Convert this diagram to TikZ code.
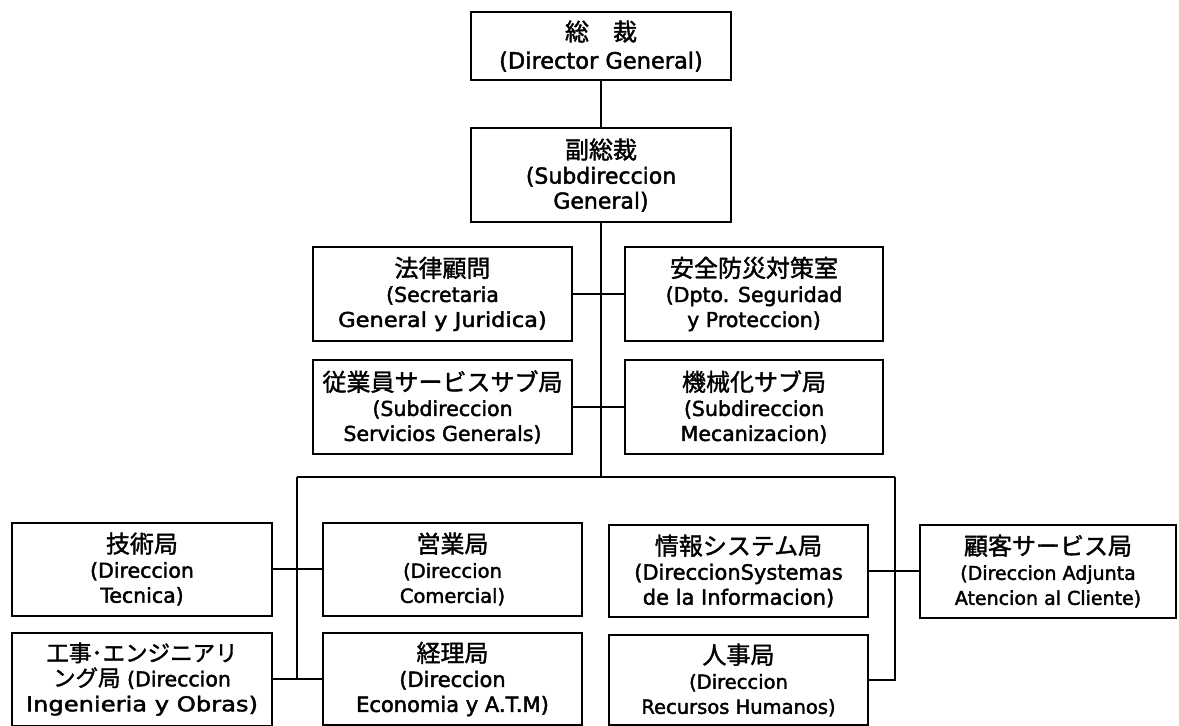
\documentclass[tikz,border=0pt]{standalone}
\usepackage{fontspec}
\usepackage{graphicx}
\setmainfont{DejaVu Sans}[FakeBold=2]
\newfontfamily\jpfont{Noto Sans CJK JP}[FakeBold=1.5]
\newcommand\jp[1]{{\jpfont\fontsize{24}{25}\selectfont #1}}
\newcommand\jps[1]{{\jpfont\fontsize{22.5}{25}\selectfont #1}}
\newcommand\wide[2]{\scalebox{#1}[1]{#2}}
\tikzset{
  orgbox/.style={draw, line width=2pt, align=center, inner sep=0pt,
    font=\fontsize{20.5}{25}\selectfont},
  link/.style={line width=2pt}
}
\begin{document}
\begin{tikzpicture}[x=1pt,y=-1pt]
\fill[white] (0,0) rectangle (1179,726);
\useasboundingbox (0,0) rectangle (1179,726);
% top
\node[orgbox, minimum width=260pt, minimum height=68pt,
  font=\fontsize{22.5}{28}\selectfont] (dg) at (601,46)
  {\jp{総　裁}\\(Director General)};
\node[orgbox, minimum width=260pt, minimum height=94pt,
  font=\fontsize{22}{25}\selectfont] (sg) at (601,175)
  {\jp{副総裁}\\(Subdireccion\\General)};
% middle
\node[orgbox, minimum width=259pt, minimum height=94pt] (leg) at (442.5,294)
  {\jp{法律顧問}\\(Secretaria\\\wide{1.1}{General y Juridica)}};
\node[orgbox, minimum width=258pt, minimum height=94pt] (seg) at (754,294)
  {\jp{安全防災対策室}\\(Dpto. Seguridad\\y Proteccion)};
\node[orgbox, minimum width=259pt, minimum height=94pt] (ssg) at (442.5,407)
  {\jp{従業員サービスサブ局}\\(Subdireccion\\Servicios Generals)};
\node[orgbox, minimum width=258pt, minimum height=94pt] (mec) at (754,407)
  {\jp{機械化サブ局}\\(Subdireccion\\Mecanizacion)};
% bottom
\node[orgbox, minimum width=260pt, minimum height=93pt] (tec) at (142,569)
  {\jp{技術局}\\(Direccion\\Tecnica)};
\node[orgbox, minimum width=259pt, minimum height=93pt,
  font=\fontsize{19.5}{25}\selectfont] (com) at (452.5,569)
  {\jp{営業局}\\(Direccion\\Comercial)};
\node[orgbox, minimum width=259pt, minimum height=92pt,
  font=\fontsize{21}{25}\selectfont] (inf) at (738.5,571)
  {\jp{情報システム局}\\(DireccionSystemas\\de la Informacion)};
\node[orgbox, minimum width=256pt, minimum height=93pt,
  font=\fontsize{19}{25}\selectfont] (cli) at (1048,571)
  {\jp{顧客サービス局}\\(Direccion Adjunta\\Atencion al Cliente)};
\node[orgbox, minimum width=260pt, minimum height=93pt] (ing) at (142,679)
  {\jps{工事･エンジニアリ}\\\jps{ング局} (Direccion\\\wide{1.18}{Ingenieria y Obras)}};
\node[orgbox, minimum width=259pt, minimum height=92pt,
  font=\fontsize{21}{25}\selectfont] (eco) at (452.5,679)
  {\jp{経理局}\\(Direccion\\Economia y A.T.M)};
\node[orgbox, minimum width=259pt, minimum height=90pt,
  font=\fontsize{19.5}{25}\selectfont] (rh) at (738.5,680)
  {\jp{人事局}\\(Direccion\\Recursos Humanos)};
% junctions
\coordinate (jt) at (601,477);
\coordinate (jl) at (297,477);
\coordinate (jr) at (895,477);
% connectors
\draw[link] (dg) -- (sg);
\draw[link] (sg) -- (jt);
\draw[link] (leg) -- (seg);
\draw[link] (ssg) -- (mec);
\draw[link] (jl) -- (jr);
\draw[link] (jl) -- (jl |- ing.east);
\draw[link] (tec) -- (com);
\draw[link] (ing) -- (eco);
\draw[link] (jr) -- (jr |- rh.east) -- (rh.east);
\draw[link] (inf) -- (cli);
\end{tikzpicture}
\end{document}
